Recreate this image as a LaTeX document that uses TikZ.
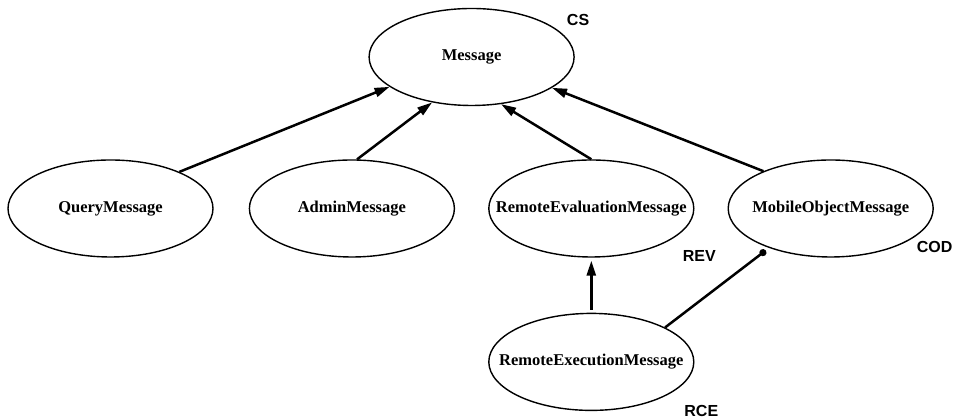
\documentclass[tikz,border=0pt]{standalone}
\usepackage{fontspec}
\setmainfont{Liberation Serif}
\setsansfont{Liberation Sans}
\usetikzlibrary{calc}
\usetikzlibrary{positioning}
\usetikzlibrary{shapes.geometric}
\usetikzlibrary{arrows.meta}

\begin{document}
\begin{tikzpicture}[x=1pt, y=1pt,
    every node/.style={inner sep=0},
    cls/.style={ellipse, draw, line width=1.4pt,
      minimum width=205pt, minimum height=97pt,
      font=\fontsize{16.5}{18}\selectfont\bfseries,
      execute at begin node={\hbox to 0pt\bgroup\hss},
      execute at end node={\hss\egroup}},
    tag/.style={font=\fontsize{16}{18}\selectfont\sffamily\bfseries},
    isa/.style={line width=2.5pt, -{Triangle[length=15pt, width=9pt]}},
    uses/.style={line width=2.5pt, -{Circle[length=7pt]}}
  ]
  \useasboundingbox (0,0) rectangle (953,419);

  \node[cls] (query) at (110.5,210.5) {QueryMessage};
  \node[cls, right=35pt of query] (admin) {AdminMessage};
  \node[cls, right=33pt of admin] (remeval) {RemoteEvaluationMessage};
  \node[cls, right=33pt of remeval] (mobobj) {MobileObjectMessage};
  \node[cls, below=55pt of remeval] (remexec) {RemoteExecutionMessage};
  \node[cls] (msg) at ($(admin)!0.5!(remeval)+(0,151.5)$) {Message};

  \node[tag] (cs) at ($(msg)+(106.5,37)$) {CS};
  \node[tag] (rev) at ($(remeval)+(108,-48)$) {REV};
  \node[tag] (cod) at ($(mobobj)+(104,-38.5)$) {COD};
  \node[tag] (rce) at ($(remexec)+(110,-49)$) {RCE};

  \coordinate (mobobj_in) at ($(mobobj)+(-65,-42)$);

  \draw[isa] (query.28) -- (msg.200);
  \draw[isa] (admin.84) -- (msg.229);
  \draw[isa] (remeval.north) -- (msg.302);
  \draw[isa] (mobobj.151) -- (msg.339);
  \draw[isa, shorten <=3pt, shorten >=3pt] (remexec.north) -- (remeval.south);
  \draw[uses] (remexec.25) -- (mobobj_in);
\end{tikzpicture}
\end{document}
